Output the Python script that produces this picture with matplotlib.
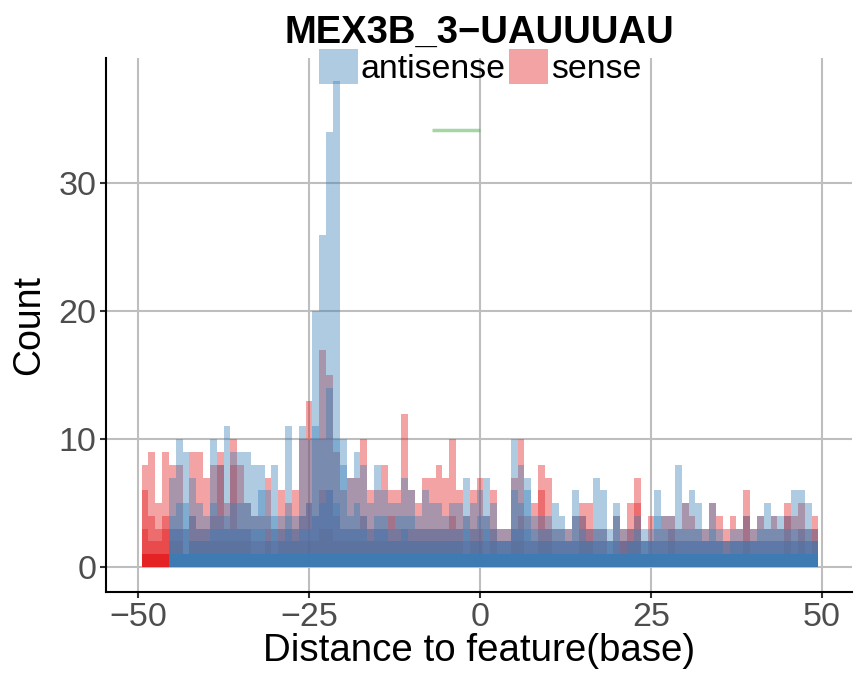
import numpy as np
import matplotlib
matplotlib.use("Agg")
import matplotlib.pyplot as plt
from matplotlib.patches import Patch

plt.rcParams['font.family'] = ['Liberation Sans', 'DejaVu Sans']

# bin centres (distance to feature, base)
positions = list(range(-49, 50))

# antisense counts, read per bin (top layer, middle layer, low layer, core)
anti_top = [0, 0, 0, 0,
            7, 10, 9, 7, 5, 4, 10, 8, 11, 9,
            9, 9, 8, 8, 6, 8, 4, 11, 4, 11,
            10, 20, 26, 34, 38, 10, 7, 9, 8, 5,
            8, 6, 5, 5, 7, 6, 4, 6, 5, 5,
            4, 5, 5, 7, 5, 6, 7, 5, 3, 3,
            10, 8, 7, 4, 4, 4, 5, 4, 3, 6,
            4, 3, 7, 6, 3, 5, 3, 3, 4, 3,
            3, 6, 4, 4, 8, 5, 6, 5, 3, 5,
            3, 2, 3, 3, 4, 3, 4, 5, 4, 4,
            4, 6, 6, 5, 3]
anti_mid = [0, 0, 0, 0,
            4, 5, 5, 4, 3, 3, 5, 4, 4, 5,
            5, 5, 4, 6, 4, 4, 3, 4, 3, 4,
            5, 11, 10, 14, 10, 8, 4, 5, 4, 3,
            4, 4, 3, 4, 4, 4, 3, 3, 3, 3,
            3, 3, 3, 4, 3, 4, 4, 3, 2, 2,
            6, 5, 6, 3, 3, 3, 3, 3, 2, 4,
            3, 2, 3, 3, 2, 4, 2, 2, 3, 2,
            2, 4, 3, 3, 3, 3, 3, 3, 2, 3,
            2, 2, 2, 2, 2, 2, 3, 3, 3, 3,
            3, 3, 3, 3, 2]
anti_low = [0, 0, 0, 0,
            3, 3, 3, 2, 2, 2, 3, 3, 3, 3,
            3, 3, 3, 3, 2, 3, 2, 3, 2, 3,
            3, 4, 5, 6, 5, 3, 3, 3, 3, 2,
            3, 3, 2, 2, 3, 2, 2, 2, 2, 2,
            2, 2, 2, 3, 2, 2, 3, 2, 2, 2,
            3, 3, 3, 2, 2, 2, 2, 2, 2, 2,
            2, 2, 2, 2, 2, 2, 1, 2, 2, 2,
            2, 2, 2, 2, 2, 2, 2, 2, 2, 2,
            2, 1, 2, 2, 2, 2, 2, 2, 2, 2,
            2, 2, 2, 2, 2]
anti_core = [0, 0, 0, 0] + [1] * 95

# sense counts, read per bin
sense_top = [8, 9, 5, 9,
             8, 8, 3, 9, 9, 7, 8, 9, 5, 10,
             8, 5, 4, 4, 7, 3, 6, 5, 6, 10,
             13, 10, 17, 15, 9, 6, 7, 7, 10, 6,
             6, 8, 6, 6, 12, 6, 5, 7, 7, 8,
             7, 10, 6, 4, 6, 7, 4, 6, 3, 3,
             7, 10, 4, 5, 8, 7, 3, 3, 3, 4,
             5, 5, 3, 3, 2, 4, 3, 5, 7, 2,
             4, 3, 4, 4, 3, 5, 4, 3, 3, 5,
             4, 3, 4, 3, 6, 3, 4, 3, 4, 3,
             5, 4, 5, 3, 4]
sense_mid = [6, 4, 3, 4,
             3, 3, 1, 4, 3, 3, 4, 8, 3, 8,
             3, 3, 2, 2, 3, 2, 3, 3, 3, 4,
             5, 4, 6, 6, 4, 3, 3, 3, 4, 3,
             3, 3, 4, 3, 3, 3, 3, 3, 3, 3,
             3, 4, 3, 2, 3, 3, 2, 3, 2, 2,
             3, 4, 2, 2, 6, 3, 2, 2, 2, 2,
             4, 3, 2, 2, 1, 2, 2, 3, 5, 1,
             2, 2, 2, 3, 2, 2, 2, 2, 2, 2,
             2, 2, 2, 2, 4, 2, 2, 2, 2, 2,
             4, 2, 3, 2, 3]
sense_low = [3, 2, 2, 3,
             2, 2, 1, 2, 2, 2, 2, 2, 2, 2,
             2, 2, 1, 1, 2, 1, 2, 2, 2, 2,
             2, 2, 3, 3, 2, 2, 2, 2, 2, 2,
             2, 2, 2, 2, 2, 2, 2, 2, 2, 2,
             2, 2, 2, 1, 2, 2, 1, 2, 1, 1,
             2, 2, 1, 1, 2, 2, 1, 1, 1, 1,
             2, 2, 1, 1, 1, 1, 2, 2, 2, 1,
             1, 1, 1, 2, 1, 1, 1, 1, 1, 1,
             1, 1, 1, 1, 2, 1, 1, 1, 1, 1,
             2, 1, 2, 1, 2]
sense_core = [1, 1, 1, 1] + [0] * 95

# motif position marker
motif_start = -7
motif_end = 0
motif_y = 34.2

red = '#E41A1C'
blue = '#377EB8'
green = '#4DAF4A'

fig = plt.figure(figsize=(8.66, 6.79), dpi=100)
ax = fig.add_axes([0.1224, 0.1281, 0.8614, 0.7865])

x = np.array(positions)
for h in [sense_top, sense_mid, sense_low]:
    ax.bar(x, h, width=1, color=red, alpha=0.4, linewidth=0, antialiased=False, zorder=2)
ax.bar(x, sense_core, width=1, color=red, alpha=0.8, linewidth=0, antialiased=False, zorder=2)
for h in [anti_top, anti_mid, anti_low]:
    ax.bar(x, h, width=1, color=blue, alpha=0.4, linewidth=0, antialiased=False, zorder=3)
ax.bar(x, anti_core, width=1, color=blue, alpha=0.8, linewidth=0, antialiased=False, zorder=3)

ax.hlines(motif_y, motif_start, motif_end, color=green, alpha=0.5, lw=2.5, zorder=4)

ax.set_xlim(-54.7, 54.4)
ax.set_ylim(-1.95, 39.8)
ax.set_xticks([-50, -25, 0, 25, 50])
ax.set_yticks([0, 10, 20, 30])
ax.grid(True, color='#BEBEBE', lw=1.5, zorder=0)
ax.set_axisbelow(True)
for s in ['top', 'right']:
    ax.spines[s].set_visible(False)
for s in ['left', 'bottom']:
    ax.spines[s].set_linewidth(1.5)
    ax.spines[s].set_color('black')
ax.tick_params(axis='both', labelsize=24.5, labelcolor='#4D4D4D', color='#333333',
               length=4, width=1.5, pad=3)

ax.set_xlabel('Distance to feature(base)', fontsize=27.7, labelpad=0)
ax.set_ylabel('Count', fontsize=27, labelpad=8)
ax.set_title('MEX3B_3\u2212UAUUUAU', fontsize=27.5, fontweight='bold', pad=11)

handles = [Patch(facecolor=blue, alpha=0.4, linewidth=0, label='antisense'),
           Patch(facecolor=red, alpha=0.4, linewidth=0, label='sense')]
fig.legend(handles=handles, loc='center', bbox_to_anchor=(480 / 866, 1 - 67 / 679),
           ncol=2, frameon=False, fontsize=24.4, handlelength=1.15, handleheight=1.2,
           handletextpad=0.08, columnspacing=0.1, borderpad=0)

fig.savefig('out.png', dpi=100)
